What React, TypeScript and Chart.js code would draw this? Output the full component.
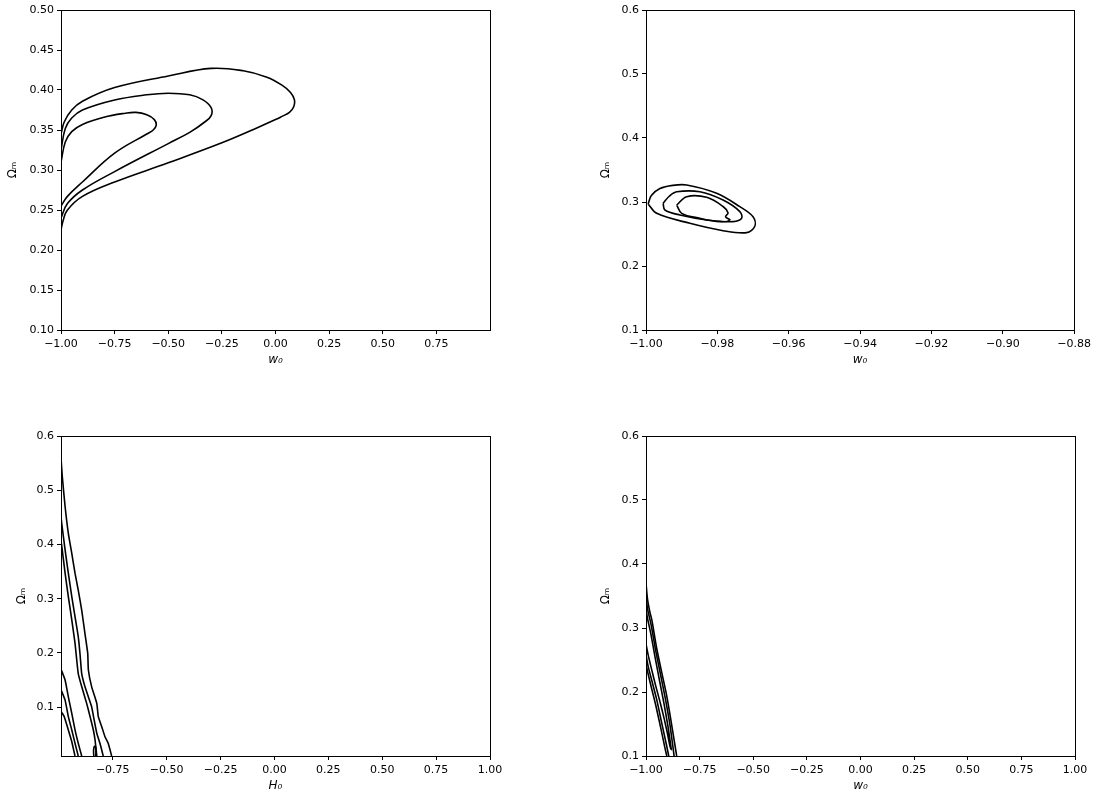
import React, { useEffect, useRef } from "react";
import { Chart, registerables } from "chart.js";

Chart.register(...registerables);

type Pt = [number, number];

// ---------- Panel 1 (top-left): w0 vs Omega_m ----------
const P1_X_TICKS = [-1, -0.75, -0.5, -0.25, 0, 0.25, 0.5, 0.75];
const P1_Y_TICKS = [0.1, 0.15, 0.2, 0.25, 0.3, 0.35, 0.4, 0.45, 0.5];
const P1_OUTER: Pt[] = [
  [-1, 0.345], [-0.985, 0.36], [-0.95, 0.375], [-0.9, 0.386], [-0.75, 0.403], [-0.5, 0.4175],
  [-0.3, 0.427], [-0.15, 0.424], [-0.04, 0.416], [0.03, 0.406], [0.07, 0.397], [0.088, 0.388],
  [0.085, 0.379], [0.065, 0.372], [0.03, 0.367], [0, 0.363], [-0.1, 0.351], [-0.25, 0.334], [-0.5, 0.309],
  [-0.75, 0.285], [-0.9, 0.267], [-0.97, 0.25], [-0.99, 0.237], [-1, 0.225],
];
const P1_MIDDLE: Pt[] = [
  [-1, 0.325], [-0.98, 0.352], [-0.95, 0.365], [-0.9, 0.375], [-0.75, 0.3875], [-0.6, 0.394],
  [-0.5, 0.396], [-0.4, 0.394], [-0.34, 0.388], [-0.3, 0.378], [-0.3, 0.368], [-0.33, 0.36],
  [-0.4, 0.347], [-0.5, 0.333], [-0.75, 0.298], [-0.9, 0.275], [-0.97, 0.258], [-1, 0.24],
];
const P1_INNER: Pt[] = [
  [-1, 0.31], [-0.98, 0.335], [-0.95, 0.348], [-0.9, 0.357], [-0.8, 0.366], [-0.7, 0.371],
  [-0.65, 0.372], [-0.6, 0.369], [-0.565, 0.363], [-0.556, 0.356], [-0.57, 0.35], [-0.6, 0.345],
  [-0.75, 0.321], [-0.9, 0.285], [-0.97, 0.267], [-1, 0.255],
];

// ---------- Panel 2 (top-right): w0 vs Omega_m (zoomed) ----------
const P2_X_TICKS = [-1, -0.98, -0.96, -0.94, -0.92, -0.9, -0.88];
const P2_Y_TICKS = [0.1, 0.2, 0.3, 0.4, 0.5, 0.6];
const P2_OUTER: Pt[] = [
  [-0.9994, 0.297], [-0.9985, 0.31], [-0.9961, 0.321], [-0.9925, 0.326], [-0.9886, 0.3266],
  [-0.9802, 0.3136], [-0.9737, 0.2927], [-0.97, 0.277], [-0.9695, 0.262], [-0.9718, 0.2521],
  [-0.9784, 0.2552], [-0.9877, 0.2667], [-0.997, 0.2823], [-0.9994, 0.297],
];
const P2_MIDDLE: Pt[] = [
  [-0.9952, 0.298], [-0.9935, 0.309], [-0.9914, 0.316], [-0.9849, 0.316], [-0.9784, 0.303],
  [-0.9737, 0.285], [-0.9732, 0.2745], [-0.9756, 0.2693], [-0.983, 0.272], [-0.9905, 0.2797],
  [-0.9947, 0.2875], [-0.9952, 0.298],
];
const P2_INNER: Pt[] = [
  [-0.9914, 0.2953], [-0.9886, 0.3083], [-0.983, 0.3073], [-0.9784, 0.293], [-0.977, 0.283],
  [-0.9777, 0.277], [-0.9765, 0.2719], [-0.9793, 0.2693], [-0.9849, 0.2745], [-0.99, 0.2823],
  [-0.9914, 0.2953],
];

// ---------- Panel 3 (bottom-left): H0 vs Omega_m ----------
const P3_X_TICKS = [-0.75, -0.5, -0.25, 0, 0.25, 0.5, 0.75, 1];
const P3_Y_TICKS = [0.1, 0.2, 0.3, 0.4, 0.5, 0.6];
const P3_UP_A: Pt[] = [
  [-0.99, 0.56], [-0.984, 0.525], [-0.971, 0.47], [-0.956, 0.4206], [-0.94, 0.3837], [-0.925, 0.347],
  [-0.91, 0.316], [-0.894, 0.279], [-0.879, 0.236], [-0.866, 0.199], [-0.863, 0.1686], [-0.848, 0.138],
  [-0.824, 0.107], [-0.817, 0.0825], [-0.801, 0.064], [-0.786, 0.0456], [-0.771, 0.0334], [-0.755, 0.01],
];
const P3_UP_B: Pt[] = [
  [-0.99, 0.452], [-0.987, 0.44], [-0.971, 0.39], [-0.956, 0.347], [-0.94, 0.304], [-0.925, 0.267],
  [-0.91, 0.23], [-0.902, 0.199], [-0.894, 0.162], [-0.879, 0.138], [-0.863, 0.119], [-0.848, 0.101],
  [-0.836, 0.076], [-0.824, 0.052], [-0.809, 0.033], [-0.794, 0.01],
];
const P3_UP_C: Pt[] = [
  [-0.99, 0.405], [-0.987, 0.399], [-0.971, 0.347], [-0.956, 0.304], [-0.94, 0.261], [-0.925, 0.218],
  [-0.917, 0.187], [-0.91, 0.162], [-0.894, 0.138], [-0.871, 0.107], [-0.855, 0.0825], [-0.84, 0.058],
  [-0.832, 0.0395], [-0.824, 0.01],
];
const P3_LOOP: Pt[] = [
  [-0.838, 0.01], [-0.839, 0.02], [-0.835, 0.028], [-0.829, 0.026], [-0.828, 0.016], [-0.829, 0.01],
];
const P3_LO_D: Pt[] = [
  [-0.99, 0.17], [-0.971, 0.15], [-0.956, 0.119], [-0.94, 0.0887], [-0.925, 0.058], [-0.91, 0.0334], [-0.894, 0.01],
];
const P3_LO_E: Pt[] = [
  [-0.99, 0.132], [-0.971, 0.113], [-0.956, 0.0825], [-0.94, 0.058], [-0.925, 0.0334], [-0.91, 0.01],
];
const P3_LO_F: Pt[] = [
  [-0.99, 0.092], [-0.975, 0.0825], [-0.956, 0.058], [-0.94, 0.0364], [-0.925, 0.01],
];

// ---------- Panel 4 (bottom-right): w0 vs Omega_m ----------
const P4_X_TICKS = [-1, -0.75, -0.5, -0.25, 0, 0.25, 0.5, 0.75, 1];
const P4_Y_TICKS = [0.1, 0.2, 0.3, 0.4, 0.5, 0.6];
const P4_UP1: Pt[] = [
  [-1, 0.37], [-0.993, 0.345], [-0.982, 0.325], [-0.973, 0.313], [-0.95, 0.268], [-0.927, 0.231],
  [-0.904, 0.195], [-0.88, 0.148], [-0.857, 0.1],
];
const P4_UP2: Pt[] = [
  [-1, 0.35], [-0.993, 0.33], [-0.976, 0.305], [-0.955, 0.265], [-0.932, 0.227], [-0.91, 0.19],
  [-0.888, 0.148], [-0.869, 0.1],
];
const P4_INNER: Pt[] = [
  [-1, 0.33], [-0.993, 0.315], [-0.978, 0.292], [-0.958, 0.255], [-0.937, 0.218], [-0.915, 0.18],
  [-0.897, 0.145], [-0.884, 0.115], [-0.882, 0.11], [-0.888, 0.115], [-0.9, 0.135], [-0.915, 0.158],
  [-0.935, 0.185], [-0.955, 0.21], [-0.975, 0.237], [-0.99, 0.258], [-1, 0.275],
];
const P4_LO2: Pt[] = [
  [-1, 0.258], [-0.99, 0.24], [-0.973, 0.218], [-0.95, 0.188], [-0.927, 0.152], [-0.905, 0.118], [-0.894, 0.1],
];
const P4_LO1: Pt[] = [
  [-1, 0.243], [-0.99, 0.228], [-0.975, 0.207], [-0.955, 0.18], [-0.93, 0.142], [-0.912, 0.113], [-0.903, 0.1],
];

const FONT = "'DejaVu Sans', sans-serif";

type PanelSpec = {
  left: number;
  top: number;
  xMin: number;
  xMax: number;
  yMin: number;
  yMax: number;
  xTicks: number[];
  yTicks: number[];
  xDec: number;
  yDec: number;
  xTitle: string;
  yTitle: string;
  yTitlePad: number;
  lines: Pt[][];
  tension: number;
};

const fmt = (v: number, d: number) => {
  const s = Math.abs(v) < 1e-12 ? (0).toFixed(d) : v.toFixed(d);
  return s.replace("-", "\u2212");
};

const framePlugin = {
  id: "frame",
  afterDatasetsDraw(chart: any) {
    const { ctx, chartArea: a } = chart;
    ctx.save();
    ctx.strokeStyle = "#000";
    ctx.lineWidth = 1;
    ctx.strokeRect(
      Math.round(a.left) + 0.5,
      Math.round(a.top) + 0.5,
      Math.round(a.right - a.left),
      Math.round(a.bottom - a.top)
    );
    ctx.restore();
  },
};

const W = 510;
const H = 370;

function Panel({ spec }: { spec: PanelSpec }) {
  const ref = useRef<HTMLCanvasElement>(null);
  useEffect(() => {
    const chart = new Chart(ref.current!, {
      type: "scatter",
      data: {
        datasets: spec.lines.map((pts) => ({
          data: pts.map(([x, y]) => ({ x, y })),
          showLine: true,
          borderColor: "#000",
          borderWidth: 1.6,
          pointRadius: 0,
          pointHoverRadius: 0,
          tension: spec.tension,
          fill: false,
        })),
      },
      options: {
        animation: false,
        responsive: false,
        devicePixelRatio: 1,
        layout: { padding: { top: 10, right: 20, bottom: 0, left: 0 } },
        plugins: { legend: { display: false }, tooltip: { enabled: false } },
        scales: {
          x: {
            type: "linear",
            min: spec.xMin,
            max: spec.xMax,
            afterBuildTicks: (s: any) => {
              s.ticks = spec.xTicks.map((v) => ({ value: v }));
            },
            afterFit: (s: any) => {
              s.height = 40;
            },
            ticks: {
              autoSkip: false,
              maxRotation: 0,
              padding: 4,
              color: "#000",
              font: { family: FONT, size: 11 },
              callback: (v: any) => fmt(Number(v), spec.xDec),
            },
            grid: {
              drawOnChartArea: false,
              drawTicks: true,
              tickLength: 4,
              color: "#000",
            },
            border: { display: false },
            title: {
              display: true,
              text: spec.xTitle,
              color: "#000",
              font: { family: FONT, size: 12, style: "italic" },
              padding: { top: 0, bottom: 3 },
            },
          },
          y: {
            type: "linear",
            min: spec.yMin,
            max: spec.yMax,
            afterBuildTicks: (s: any) => {
              s.ticks = spec.yTicks.map((v) => ({ value: v }));
            },
            afterFit: (s: any) => {
              s.width = 61;
            },
            ticks: {
              autoSkip: false,
              padding: 3,
              color: "#000",
              font: { family: FONT, size: 11 },
              callback: (v: any) => fmt(Number(v), spec.yDec),
            },
            grid: {
              drawOnChartArea: false,
              drawTicks: true,
              tickLength: 4,
              color: "#000",
            },
            border: { display: false },
            title: {
              display: true,
              text: spec.yTitle,
              color: "#000",
              font: { family: FONT, size: 12 },
              padding: { top: spec.yTitlePad, bottom: 0 },
            },
          },
        },
      },
      plugins: [framePlugin],
    } as any);
    return () => chart.destroy();
  }, []);
  return (
    <canvas
      ref={ref}
      width={W}
      height={H}
      style={{ position: "absolute", left: spec.left, top: spec.top, width: W, height: H }}
    />
  );
}

const PANELS: PanelSpec[] = [
  {
    left: 0, top: 0, xMin: -1, xMax: 1, yMin: 0.1, yMax: 0.5,
    xTicks: P1_X_TICKS, yTicks: P1_Y_TICKS, xDec: 2, yDec: 2,
    xTitle: "w\u2080", yTitle: "\u03A9\u2098", yTitlePad: 6,
    lines: [P1_OUTER, P1_MIDDLE, P1_INNER], tension: 0.4,
  },
  {
    left: 585, top: 0, xMin: -1, xMax: -0.88, yMin: 0.1, yMax: 0.6,
    xTicks: P2_X_TICKS, yTicks: P2_Y_TICKS, xDec: 2, yDec: 1,
    xTitle: "w\u2080", yTitle: "\u03A9\u2098", yTitlePad: 14,
    lines: [P2_OUTER, P2_MIDDLE, P2_INNER], tension: 0.35,
  },
  {
    left: 0, top: 426, xMin: -0.99, xMax: 1, yMin: 0.01, yMax: 0.6,
    xTicks: P3_X_TICKS, yTicks: P3_Y_TICKS, xDec: 2, yDec: 1,
    xTitle: "H\u2080", yTitle: "\u03A9\u2098", yTitlePad: 15,
    lines: [P3_UP_A, P3_UP_B, P3_UP_C, P3_LOOP, P3_LO_D, P3_LO_E, P3_LO_F], tension: 0.15,
  },
  {
    left: 585, top: 426, xMin: -1, xMax: 1, yMin: 0.1, yMax: 0.6,
    xTicks: P4_X_TICKS, yTicks: P4_Y_TICKS, xDec: 2, yDec: 1,
    xTitle: "w\u2080", yTitle: "\u03A9\u2098", yTitlePad: 14,
    lines: [P4_UP1, P4_UP2, P4_INNER, P4_LO2, P4_LO1], tension: 0.2,
  },
];

export default function App() {
  return (
    <div
      style={{
        position: "absolute",
        left: 0,
        top: 0,
        width: 1100,
        height: 796,
        background: "#fff",
        overflow: "hidden",
      }}
    >
      {PANELS.map((p, i) => (
        <Panel key={i} spec={p} />
      ))}
    </div>
  );
}
